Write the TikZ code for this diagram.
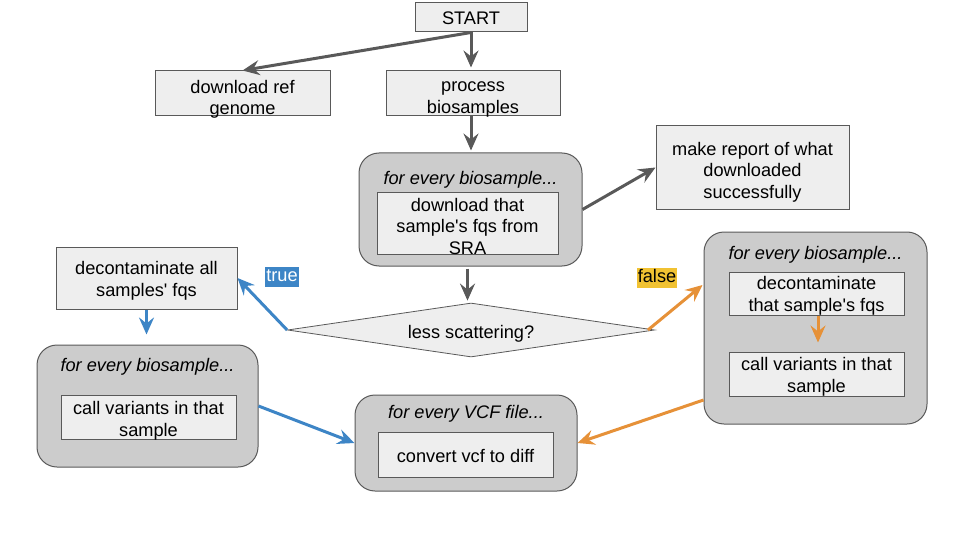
\documentclass[tikz,border=0pt]{standalone}
\usepackage{fontspec}
\setmainfont{Liberation Sans}
\usetikzlibrary{shapes.geometric,arrows.meta,calc}
\definecolor{edgegray}{HTML}{595959}
\definecolor{boxfill}{HTML}{EEEEEE}
\definecolor{groupfill}{HTML}{CCCCCC}
\definecolor{myblue}{HTML}{3D85C6}
\definecolor{myorange}{HTML}{E69138}
\definecolor{myyellow}{HTML}{F1C232}
\begin{document}
\begin{tikzpicture}[x=1pt,y=-1pt,
  every node/.style={font=\fontsize{18.2}{21.5}\selectfont},
  box/.style={draw=edgegray, line width=1pt, fill=boxfill, inner sep=0pt},
  txt/.style={align=center, inner sep=0pt},
  group/.style={draw=edgegray, line width=1pt, fill=groupfill, rounded corners=20pt, inner sep=0pt},
  grouptitle/.style={font=\fontsize{18.2}{21.5}\selectfont\itshape, inner sep=0pt},
  conn/.style={line width=3pt, -{Stealth[length=17pt,width=15pt,inset=6pt]}},
  grayconn/.style={conn, draw=edgegray},
  blueconn/.style={conn, draw=myblue},
  orangeconn/.style={conn, draw=myorange},
  lbl/.style={inner xsep=1pt, inner ysep=0pt, text height=14.5pt, text depth=5.5pt}
]
\useasboundingbox (0,0) rectangle (960,540);

% top
\node[box, minimum width=112pt, minimum height=29pt] (start) at (471,17.5) {};
\node[txt] (startT) at (471,18.5) {START};
\node[box, minimum width=175pt, minimum height=45pt] (dl) at (242.5,93.5) {};
\node[txt] (dlT) at (242.5,99.5) {download ref\\genome};
\node[box, minimum width=174pt, minimum height=45pt] (proc) at (473,93.5) {};
\node[txt] (procT) at (473,99.5) {process\\biosamples};

% group 1
\node[group, minimum width=223pt, minimum height=113pt] (g1) at (470.5,209.5) {};
\node[grouptitle] (g1t) at (470.5,180) {for every biosample...};
\node[box, minimum width=181pt, minimum height=62pt] (g1a) at (467.5,223) {};
\node[txt] (g1aT) at (467.5,226) {download that\\sample\textquotesingle s fqs from\\SRA};

\node[box, minimum width=193pt, minimum height=83pt] (report) at (752.5,167.5) {};
\node[txt] (reportT) at (752.5,172) {make report of what\\downloaded\\successfully};

% diamond
\node[diamond, draw=edgegray, line width=0.8pt, fill=boxfill, aspect=6.8, minimum width=367pt, minimum height=54pt, inner sep=0pt] (dia) at (471,330) {};
\node[txt] (diaT) at (471,333.5) {less scattering?};

% left branch
\node[box, minimum width=181pt, minimum height=62pt] (dec) at (146.5,278) {};
\node[txt] (decT) at (146.5,281) {decontaminate all\\samples\textquotesingle\ fqs};
\node[group, minimum width=221pt, minimum height=122pt] (g2) at (147.5,406) {};
\node[grouptitle] (g2t) at (147.5,367) {for every biosample...};
\node[box, minimum width=175pt, minimum height=44pt] (g2a) at (148.5,417) {};
\node[txt] (g2aT) at (148.5,421) {call variants in that\\sample};

% bottom group
\node[group, minimum width=222pt, minimum height=96pt] (g3) at (466,443) {};
\node[grouptitle] (g3t) at (466,414) {for every VCF file...};
\node[box, minimum width=175pt, minimum height=45pt] (g3a) at (465.5,454.5) {};
\node[txt] (g3aT) at (465.5,456) {convert vcf to diff};

% right group
\node[group, minimum width=223pt, minimum height=192pt] (g4) at (815.5,328) {};
\node[grouptitle] (g4t) at (815.5,255) {for every biosample...};
\node[box, minimum width=175pt, minimum height=43pt] (g4a) at (816.5,293.5) {};
\node[txt] (g4aT) at (816.5,296) {decontaminate\\that sample\textquotesingle s fqs};
\node[box, minimum width=175pt, minimum height=44pt] (g4b) at (816.5,374) {};
\node[txt] (g4bT) at (816.5,377) {call variants in that\\sample};

% labels
\node[lbl, fill=myblue, text=white] (ltrue) at (282,276.5) {true};
\node[lbl, fill=myyellow, text=black] (lfalse) at (657,278) {false};

% connectors
\draw[grayconn] (start.south) -- (dl.north);
\draw[grayconn, shorten >=3pt] (start.south) -- (start.south |- proc.north);
\draw[grayconn, shorten >=2pt] (proc.south |- proc.south) ++(-2,0) coordinate (ps) -- (ps |- g1.north);
\draw[grayconn] (g1.east) -- (report.west);
\draw[grayconn, shorten >=2pt] ($(g1.south)+(-3,2)$) coordinate (g1s) -- (g1s |- dia.north);

\draw[blueconn] (dia.west) -- (dec.east);
\draw[blueconn, shorten >=10pt] (dec.south) -- (dec.south |- g2.north);
\draw[blueconn] (g2.east) -- (g3.west);

\coordinate (g4in) at ($(g4.west)+(-1,-43)$);
\draw[orangeconn] ($(dia.east)+(-7,0)$) -- (g4in);
\coordinate (g4out) at ($(g4.west)+(0,72)$);
\draw[orangeconn] (g4out) -- (g3.east);
\draw[orangeconn, shorten >=9pt] ($(g4a.south)+(1.5,0)$) coordinate (g4as) -- (g4as |- g4b.north);
\end{tikzpicture}
\end{document}
